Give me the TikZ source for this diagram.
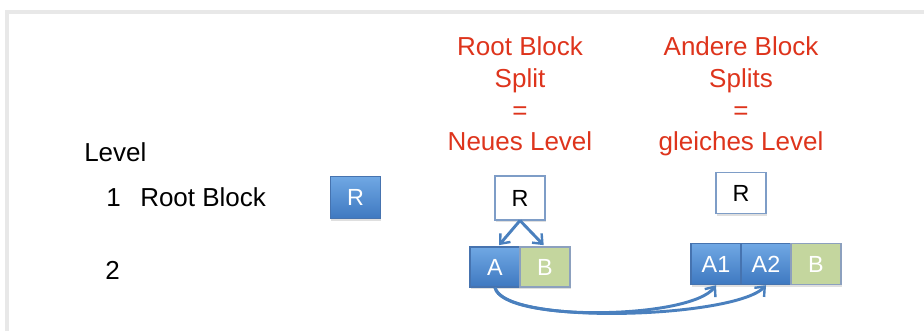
\documentclass[tikz,border=0pt]{standalone}
\usepackage{fontspec}
\setmainfont{Liberation Sans}
\usetikzlibrary{arrows.meta,shadows}
\definecolor{titlered}{RGB}{222,52,28}
\definecolor{blocktop}{RGB}{112,168,228}
\definecolor{blockbot}{RGB}{62,120,192}
\definecolor{blockedge}{RGB}{70,115,175}
\definecolor{greenfill}{RGB}{196,214,158}
\definecolor{greenedge}{RGB}{140,160,190}
\definecolor{arrowblue}{RGB}{74,128,190}
\definecolor{frameedge}{RGB}{232,232,232}
\tikzset{
  bigtext/.style={font=\fontsize{19.5}{23.8}\selectfont, inner sep=0pt},
  title/.style={bigtext, text=titlered, align=center, anchor=base},
  label/.style={bigtext, anchor=base west},
  blk/.style={draw=blockedge, line width=0.8pt, minimum width=37.5pt,
    minimum height=31pt, inner sep=0pt, font=\fontsize{17.5}{20}\selectfont,
    drop shadow={shadow xshift=0.6pt, shadow yshift=-1.8pt, opacity=0.25}},
  blueblk/.style={blk, top color=blocktop, bottom color=blockbot, text=white},
  greenblk/.style={blk, fill=greenfill, draw=greenedge, text=white},
  whiteblk/.style={blk, fill=white, draw=blockedge!70, text=black},
  link/.style={draw=arrowblue, line width=2.2pt,
    -{Straight Barb[length=6pt,width=10pt,line width=1.8pt]}},
}
\begin{document}
\begin{tikzpicture}[x=0.75pt,y=-0.75pt]
  \useasboundingbox (0,0) rectangle (924,331);
  \fill[white] (0,0) rectangle (924,331);
  % slide edge
  \draw[frameedge, line width=2.5pt] (7,331) -- (7,12) -- (924,12);

  % column headings (anchored at the baseline of the last line)
  \node[title] (t1) at (520,151) {Root Block\\Split\\=\\Neues Level};
  \node[title] (t2) at (741,151) {Andere Block\\Splits\\=\\gleiches Level};

  % level labels
  \node[label] (lvl) at (84,162) {Level};
  \node[label] (l1) at (106,207) {1};
  \node[label] (rb) at (140,207) {Root Block};
  \node[label] (l2) at (105,280) {2};

  % initial root block
  \node[blueblk, minimum height=32pt] (R0) at (355.5,197.5) {R};

  % root block split
  \node[whiteblk, minimum height=33pt] (R1) at (520,198) {R};
  \node[blueblk, minimum height=30pt] (A) at (495,267) {A};
  \node[greenblk, minimum height=30pt] (B) at (545,267) {B};

  % other block split
  \node[whiteblk, minimum height=31pt] (R2) at (741,193) {R};
  \node[blueblk, minimum height=31pt] (A1) at (716,264) {A1};
  \node[blueblk, minimum height=31pt] (A2) at (766,264) {A2};
  \node[greenblk, minimum height=31pt] (B2) at (816,264) {B};

  % split arrows
  \draw[link] (R1.south) -- ([xshift=3pt,yshift=1pt]A.north);
  \draw[link] (R1.south) -- ([xshift=-1pt,yshift=1pt]B.north);

  % moved entries
  \draw[link] (A.south) .. controls (502,322) and (690,320) .. (A1.south);
  \draw[link] (A.south) .. controls (505,326) and (735,318) .. (A2.south);
\end{tikzpicture}
\end{document}
